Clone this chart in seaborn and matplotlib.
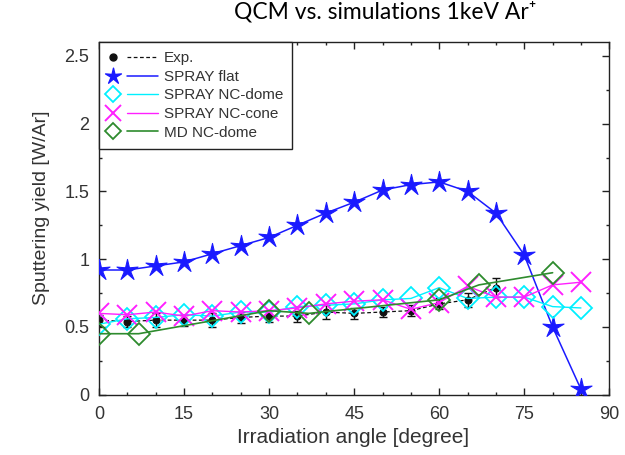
import numpy as np
import pandas as pd
import matplotlib
matplotlib.use("Agg")
import matplotlib.pyplot as plt
import seaborn as sns
from matplotlib.lines import Line2D
from matplotlib.legend_handler import HandlerBase
from matplotlib.path import Path
from matplotlib.ticker import MultipleLocator

# ---------------- data ----------------
angles = [0, 5, 10, 15, 20, 25, 30, 35, 40, 45, 50, 55, 60, 65, 70, 75, 80, 85]
spray_flat = [0.92, 0.92, 0.95, 0.98, 1.04, 1.10, 1.16, 1.25, 1.34, 1.42, 1.51, 1.55, 1.57, 1.50, 1.34, 1.03, 0.50, 0.04]
spray_dome = [0.52, 0.56, 0.57, 0.59, 0.58, 0.61, 0.61, 0.65, 0.66, 0.67, 0.70, 0.71, 0.79, 0.71, 0.72, 0.72, 0.65, 0.64]
spray_cone = [0.60, 0.59, 0.61, 0.58, 0.62, 0.61, 0.62, 0.64, 0.67, 0.69, 0.70, 0.63, 0.68, 0.80, 0.72, 0.72, 0.81, 0.83]
exp_angles = [0, 5, 10, 15, 20, 25, 30, 35, 40, 45, 50, 55, 60, 65, 70]
exp_yield = [0.55, 0.54, 0.55, 0.55, 0.55, 0.57, 0.58, 0.58, 0.61, 0.60, 0.61, 0.62, 0.67, 0.70, 0.79]
exp_err = [0.04, 0.04, 0.05, 0.04, 0.05, 0.04, 0.04, 0.04, 0.05, 0.04, 0.04, 0.04, 0.04, 0.05, 0.07]
md_angles = [0, 7, 30, 37, 60, 67, 80]
md_dome = [0.45, 0.45, 0.62, 0.60, 0.70, 0.81, 0.90]

labels = ["Exp.", "SPRAY flat", "SPRAY NC-dome", "SPRAY NC-cone", "MD NC-dome"]
x_ticks = [0, 15, 30, 45, 60, 75, 90]
y_ticks = [0, 0.5, 1, 1.5, 2, 2.5]
y_tick_labels = ["0", "0.5", "1", "1.5", "2", "2.5"]
title = "QCM vs. simulations 1keV Ar\u207a"
xlabel = "Irradiation angle [degree]"
ylabel = "Sputtering yield [W/Ar]"

# ---------------- style ----------------
sns.set_theme(style="ticks")
plt.rcParams["font.family"] = ["Liberation Sans", "DejaVu Sans"]

BLUE = "#1a1aff"
CYAN = "#00f0ff"
MAGENTA = "#ff20ff"
GREEN = "#2e8b2e"
BLACK = "#111111"
TXT = "#333333"

star = Path.unit_regular_star(5, innerCircle=0.3)

fig = plt.figure(figsize=(6.25, 4.55), dpi=100)
ax = fig.add_axes([99 / 625, 1 - 394.7 / 455, (609.3 - 99) / 625, (394.7 - 42.3) / 455])

df_flat = pd.DataFrame({"angle": angles, "y": spray_flat})
df_dome = pd.DataFrame({"angle": angles, "y": spray_dome})
df_cone = pd.DataFrame({"angle": angles, "y": spray_cone})
df_md = pd.DataFrame({"angle": md_angles, "y": md_dome})
df_exp = pd.DataFrame({"angle": exp_angles, "y": exp_yield, "err": exp_err})

exp_style = dict(color=BLACK, marker="o", markersize=5, mfc=BLACK, mec=BLACK)
flat_style = dict(color=BLUE, marker=star, markersize=16, mfc=BLUE, mec=BLUE)
dome_style = dict(color=CYAN, marker="D", markersize=11, mfc="none", mec=CYAN, mew=1.3)
cone_style = dict(color=MAGENTA, marker="x", markersize=15, mec=MAGENTA, mew=1.4)
md_style = dict(color=GREEN, marker="D", markersize=11, mfc="none", mec=GREEN, mew=1.3)

# Exp with error bars
ax.errorbar(df_exp["angle"], df_exp["y"], yerr=df_exp["err"], fmt="none",
            ecolor=BLACK, elinewidth=1.0, capsize=3, capthick=1.0, zorder=2)
sns.lineplot(data=df_exp, x="angle", y="y", ax=ax, sort=False, estimator=None,
             linestyle=(0, (3, 2)), linewidth=0.9, zorder=2, legend=False, **exp_style)
sns.lineplot(data=df_flat, x="angle", y="y", ax=ax, sort=False, estimator=None,
             linewidth=1.1, zorder=3, legend=False, **flat_style)
sns.lineplot(data=df_dome, x="angle", y="y", ax=ax, sort=False, estimator=None,
             linewidth=1.0, zorder=3, legend=False, **dome_style)
sns.lineplot(data=df_cone, x="angle", y="y", ax=ax, sort=False, estimator=None,
             linewidth=1.0, zorder=3, legend=False, **cone_style)
sns.lineplot(data=df_md, x="angle", y="y", ax=ax, sort=False, estimator=None,
             linewidth=1.2, zorder=3, legend=False, **md_style)

ax.set_xlim(0, 90)
ax.set_ylim(0, 2.6)
ax.set_xticks(x_ticks)
ax.set_xticklabels([str(t) for t in x_ticks])
ax.set_yticks(y_ticks)
ax.set_yticklabels(y_tick_labels)
ax.xaxis.set_minor_locator(MultipleLocator(5))
ax.yaxis.set_minor_locator(MultipleLocator(0.25))
ax.tick_params(which="both", direction="in", top=True, right=True, color="#222222", labelcolor=TXT)
ax.tick_params(which="major", length=5, width=1.0, labelsize=13, pad=8)
ax.tick_params(which="minor", length=2.5, width=1.0)
ax.tick_params(axis="y", which="major", pad=7)
for s in ax.spines.values():
    s.set_color("#222222")
    s.set_linewidth(1.0)

ax.set_xlabel(xlabel, fontsize=15, color=TXT)
ax.set_ylabel(ylabel, fontsize=14, color=TXT)
ax.xaxis.set_label_coords(0.498, -0.094)
ax.yaxis.set_label_coords(-0.097, 0.53)


# legend: marker on the left, line on the right (gnuplot style)
class Proxy:
    def __init__(self, line_kw, marker_kw):
        self.line_kw = line_kw
        self.marker_kw = marker_kw


class MarkerLineHandler(HandlerBase):
    def create_artists(self, legend, orig_handle, xdescent, ydescent, width, height, fontsize, trans):
        y = height / 2 - ydescent
        x0 = -xdescent
        mk = Line2D([x0 + 0.10 * width], [y], linestyle="none", transform=trans, **orig_handle.marker_kw)
        ln = Line2D([x0 + 0.37 * width, x0 + width], [y, y], transform=trans, **orig_handle.line_kw)
        return [mk, ln]


def mk(style, size):
    d = {k: v for k, v in style.items() if k != "color"}
    d["markersize"] = size
    return d


proxies = [
    Proxy(dict(color=BLACK, linestyle=(0, (3, 2)), linewidth=0.9), mk(exp_style, 5)),
    Proxy(dict(color=BLUE, linewidth=1.1), mk(flat_style, 12)),
    Proxy(dict(color=CYAN, linewidth=1.0), mk(dome_style, 8.5)),
    Proxy(dict(color=MAGENTA, linewidth=1.0), mk(cone_style, 12)),
    Proxy(dict(color=GREEN, linewidth=1.2), mk(md_style, 8.5)),
]
leg = ax.legend(proxies, labels, handler_map={Proxy: MarkerLineHandler()},
                loc="upper left", borderaxespad=0, fontsize=11, handlelength=3.3,
                handletextpad=0.37, labelspacing=0.30, borderpad=0.59,
                frameon=True, fancybox=False, framealpha=1, edgecolor="#222222")
leg.get_frame().set_linewidth(1.0)
for t in leg.get_texts():
    t.set_color(TXT)

fig.text(385 / 625, 1 - 19 / 455, title, ha="center", va="baseline",
         fontsize=16.5, color="black", family=["Lato", "DejaVu Sans"])

fig.savefig("out.png", dpi=100)
